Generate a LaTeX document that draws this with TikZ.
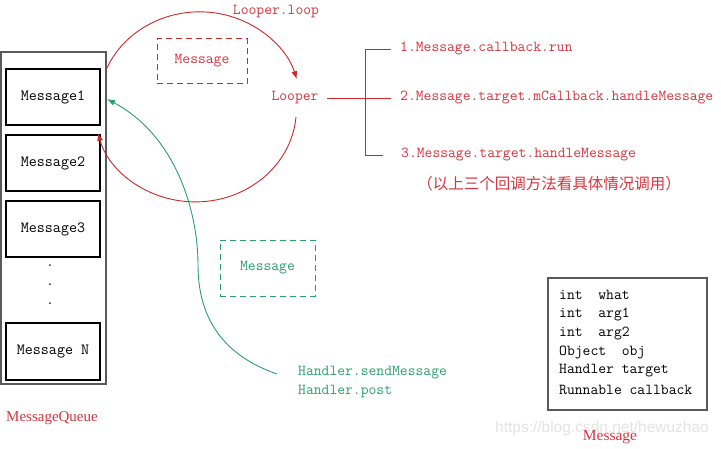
\documentclass[tikz,border=0pt]{standalone}
\usepackage{fontspec}
\setmainfont{Liberation Serif}
\newcommand\mono{\ttfamily}
\newfontfamily\cjk{Noto Sans CJK SC}
\newfontfamily\wmfont{Liberation Sans}
\usetikzlibrary{arrows.meta}
\definecolor{myred}{RGB}{214,52,62}
\definecolor{arcred}{RGB}{205,40,40}
\definecolor{mygreen}{RGB}{40,160,110}
\definecolor{boxgray}{RGB}{90,90,90}
\tikzset{
  qbox/.style={draw=black, line width=1.2pt, minimum width=94pt, minimum height=56pt, inner sep=0pt, font=\mono\fontsize{15.6}{15.6}\selectfont},
  lbl/.style={inner sep=0pt, font=\mono\fontsize{15.2}{15.2}\selectfont},
  redlbl/.style={lbl, text=myred},
  greenlbl/.style={lbl, text=mygreen},
  tip/.style={-{Latex[length=8pt,width=6pt]}},
}
\begin{document}
\begin{tikzpicture}[x=1pt,y=-1pt]
\useasboundingbox (0,0) rectangle (721,448);
% message queue
\node[draw=boxgray, line width=1.8pt, minimum width=105pt, minimum height=332pt, inner sep=0pt] (queue) at (53.5,218) {};
\node[qbox] (m1) at (53,97) {Message1};
\node[qbox] (m2) at (53,163) {Message2};
\node[qbox] (m3) at (53,229) {Message3};
\node[qbox, minimum height=57pt] (mn) at (53,351.5) {Message N};
\node[lbl] (d1) at (50,266) {.};
\node[lbl] (d2) at (50,285) {.};
\node[lbl] (d3) at (50,304) {.};
\node[inner sep=0pt, text=myred, font=\fontsize{15}{15}\selectfont] (mqlbl) at (52,418) {MessageQueue};
% looper
\node[redlbl] (looper) at (295,98) {Looper};
\node[redlbl] (looploop) at (276,12) {Looper.loop};
\node[draw=arcred, dashed, dash pattern=on 6pt off 4pt, line width=1pt, minimum width=90pt, minimum height=45pt, inner sep=0pt, text=myred, font=\mono\fontsize{15.2}{15.2}\selectfont] (rmsg) at (202,61) {Message};
\coordinate (atop) at (106,70);
\coordinate (abot) at (296,117);
\draw[arcred, line width=0.9pt, tip] (atop) arc[start angle=202, end angle=344, x radius=101, y radius=93];
\draw[arcred, line width=0.9pt, tip] (abot) arc[start angle=5, end angle=165, x radius=101, y radius=93];
% bracket
\coordinate (bl) at (327,98);
\coordinate (bt) at (365,49);
\coordinate (bm) at (365,98);
\coordinate (bb) at (365,155);
\node[redlbl, anchor=west] (c1) at (400,49) {1.Message.callback.run};
\node[redlbl, anchor=west] (c2) at (400,98) {2.Message.target.mCallback.handleMessage};
\node[redlbl, anchor=west] (c3) at (401,155) {3.Message.target.handleMessage};
\node[inner sep=0pt, text=myred, font=\cjk\fontsize{15.5}{15.5}\selectfont] (note) at (549,184) {（以上三个回调方法看具体情况调用）};
\draw[arcred, line width=1pt] (bl) -- (bm);
\draw[arcred, line width=1pt] (391,49) -- (bt) -- (bb) -- (383,155);
\draw[arcred, line width=1pt] (bm) -- (391,98);
% handler
\node[draw=mygreen, dashed, dash pattern=on 6pt off 4pt, line width=1pt, minimum width=95pt, minimum height=56pt, inner sep=0pt, text=mygreen, font=\mono\fontsize{15.2}{15.2}\selectfont] (gmsg) at (267.5,268) {Message};
\node[greenlbl, anchor=west] (h1) at (298,373) {Handler.sendMessage};
\node[greenlbl, anchor=west] (h2) at (298,392) {Handler.post};
\coordinate (gstart) at (277,374);
\coordinate (gmid) at (198,265);
\coordinate (gend) at (107,99);
\draw[mygreen, line width=0.9pt, tip] (gstart) .. controls (225,356) and (198,320) .. (gmid) .. controls (198,210) and (175,135) .. (gend);
% message struct
\node[draw=boxgray, line width=1.5pt, minimum width=159pt, minimum height=132pt, inner sep=0pt] (struct) at (627.5,344) {};
\node[lbl, anchor=west] (f1) at (559,295) {int\ \ what};
\node[lbl, anchor=west] (f2) at (559,314) {int\ \ arg1};
\node[lbl, anchor=west] (f3) at (559,333) {int\ \ arg2};
\node[lbl, anchor=west] (f4) at (559,352) {Object\ \ obj};
\node[lbl, anchor=west] (f5) at (559,371) {Handler target};
\node[lbl, anchor=west] (f6) at (559,390) {Runnable callback};
\node[inner sep=0pt, text=gray!22, font=\wmfont\fontsize{15.5}{15.5}\selectfont] (wm) at (602,428) {https://blog.csdn.net/hewuzhao};
\node[inner sep=0pt, text=myred, font=\fontsize{15.5}{15.5}\selectfont] (slbl) at (610,437) {Message};
\end{tikzpicture}
\end{document}
